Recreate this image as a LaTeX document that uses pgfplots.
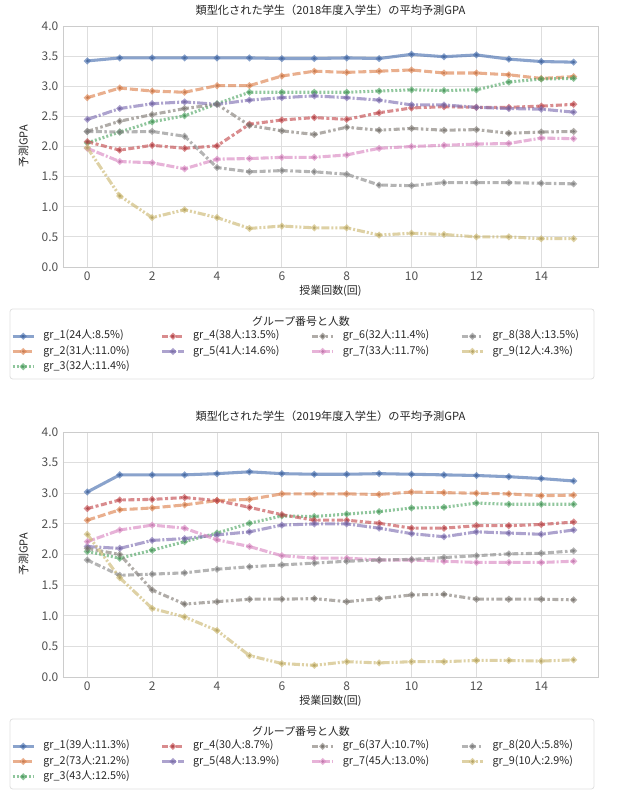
\documentclass[border=0pt]{standalone}
\usepackage{fontspec}
\setmainfont{Noto Sans CJK JP}
\usepackage{pgfplots}
\usepackage{pgfplotstable}
\pgfplotsset{compat=1.18}

\definecolor{c1}{HTML}{4C72B0}
\definecolor{c2}{HTML}{DD8452}
\definecolor{c3}{HTML}{55A868}
\definecolor{c4}{HTML}{C44E52}
\definecolor{c5}{HTML}{8172B3}
\definecolor{c6}{HTML}{85807A}
\definecolor{c7}{HTML}{DA8BC3}
\definecolor{c8}{HTML}{8C8C8C}
\definecolor{c9}{HTML}{CCB974}
\definecolor{txt}{HTML}{262626}

\pgfplotstableread{
x g1 g2 g3 g4 g5 g6 g7 g8 g9
0 3.42 2.81 2.06 2.08 2.45 2.25 1.97 2.25 1.98
1 3.47 2.97 2.24 1.94 2.63 2.42 1.75 2.24 1.18
2 3.47 2.92 2.41 2.02 2.71 2.53 1.73 2.25 0.82
3 3.47 2.90 2.51 1.97 2.74 2.63 1.63 2.17 0.95
4 3.47 3.01 2.71 2.01 2.70 2.70 1.79 1.65 0.82
5 3.47 3.01 2.90 2.37 2.77 2.35 1.80 1.58 0.64
6 3.46 3.17 2.90 2.44 2.81 2.26 1.82 1.60 0.68
7 3.46 3.25 2.90 2.48 2.84 2.20 1.82 1.58 0.65
8 3.47 3.23 2.90 2.45 2.81 2.32 1.86 1.54 0.65
9 3.46 3.25 2.92 2.56 2.77 2.27 1.97 1.36 0.53
10 3.53 3.27 2.94 2.64 2.69 2.30 2.00 1.35 0.56
11 3.49 3.22 2.93 2.66 2.69 2.27 2.02 1.40 0.54
12 3.52 3.22 2.94 2.65 2.65 2.28 2.04 1.40 0.50
13 3.45 3.19 3.07 2.65 2.63 2.22 2.05 1.40 0.50
14 3.41 3.13 3.12 2.67 2.62 2.24 2.14 1.39 0.47
15 3.40 3.16 3.13 2.70 2.57 2.25 2.13 1.38 0.47
}\dataA

\pgfplotstableread{
x g1 g2 g3 g4 g5 g6 g7 g8 g9
0 3.02 2.56 2.05 2.75 2.13 2.10 2.21 1.91 2.33
1 3.30 2.73 1.94 2.89 2.10 2.00 2.40 1.66 1.62
2 3.30 2.76 2.07 2.90 2.23 1.42 2.48 1.68 1.12
3 3.30 2.81 2.21 2.93 2.26 1.19 2.43 1.70 0.98
4 3.32 2.88 2.35 2.88 2.32 1.23 2.24 1.76 0.76
5 3.35 2.90 2.51 2.77 2.37 1.27 2.13 1.80 0.35
6 3.32 2.99 2.63 2.65 2.48 1.27 1.98 1.83 0.22
7 3.31 2.99 2.62 2.56 2.50 1.28 1.94 1.86 0.19
8 3.31 2.99 2.66 2.56 2.50 1.23 1.94 1.89 0.25
9 3.32 2.98 2.70 2.51 2.43 1.28 1.91 1.91 0.23
10 3.31 3.02 2.76 2.43 2.34 1.34 1.91 1.92 0.25
11 3.30 3.01 2.77 2.43 2.29 1.35 1.89 1.95 0.25
12 3.29 3.00 2.84 2.47 2.37 1.27 1.87 1.98 0.27
13 3.27 2.99 2.82 2.47 2.35 1.27 1.87 2.01 0.27
14 3.24 2.96 2.82 2.49 2.33 1.27 1.87 2.02 0.26
15 3.20 2.97 2.82 2.53 2.40 1.26 1.89 2.06 0.28
}\dataB

\pgfplotsset{
  base/.style={line width=2.3pt, draw opacity=0.65, mark=*, mark size=1.1pt,
    mark options={solid, draw=none, fill=#1!55!black, fill opacity=0.75}, color=#1},
  s1/.style={base=c1, solid},
  s2/.style={base=c2, dash pattern=on 6pt off 2.25pt},
  s3/.style={base=c3, dash pattern=on 1.5pt off 1.5pt},
  s4/.style={base=c4, dash pattern=on 4.5pt off 1.9pt on 2.25pt off 1.9pt},
  s5/.style={base=c5, dash pattern=on 7.5pt off 1.5pt on 1.5pt off 1.5pt},
  s6/.style={base=c6, dash pattern=on 4.5pt off 1.9pt on 1.9pt off 1.9pt on 1.9pt off 1.9pt},
  s7/.style={base=c7, dash pattern=on 6pt off 1.5pt on 6pt off 1.5pt on 1.5pt off 1.5pt},
  s8/.style={base=c8, dash pattern=on 4.5pt off 1.9pt on 4.5pt off 1.9pt on 1.9pt off 1.9pt},
  s9/.style={base=c9, dash pattern=on 6pt off 1.5pt on 1.5pt off 1.5pt on 1.5pt off 1.5pt},
  gpa/.style={
    scale only axis, width=401.25pt,
    xmin=-0.75, xmax=15.75, ymin=0, ymax=4,
    xtick={0,2,...,14}, ytick={0,0.5,...,4},
    yticklabel style={/pgf/number format/.cd, fixed, fixed zerofill, precision=1},
    /pgf/number format/assume math mode=true,
    tick label style={font=\fontsize{9}{10.5}\selectfont, text=txt!80},
    major tick length=0pt,
    grid=major, major grid style={black!13, line width=0.6pt},
    axis line style={black!20, line width=0.6pt},
    title style={font=\fontsize{8.4}{10}\selectfont, text=txt, yshift=-1.5pt},
    label style={font=\fontsize{8.2}{9.5}\selectfont, text=txt},
    xlabel={授業回数(回)}, ylabel={予測GPA},
    xlabel style={yshift=3pt}, ylabel style={yshift=3pt},
    legend image code/.code={\draw[mark repeat=2, mark phase=2, #1] plot coordinates {(0pt,0pt) (8pt,0pt) (16pt,0pt)};},
    legend cell align=left,
    legend columns=4,
    legend style={draw=none, fill=none, inner sep=0pt, outer sep=0pt,
      font=\fontsize{8.1}{9.5}\selectfont, text=txt,
      nodes={text height=6pt, text depth=2pt, inner sep=1.5pt},
      row sep=0.4pt,
      /tikz/every odd column/.append style={column sep=4.5pt},
      /tikz/every even column/.append style={column sep=6.5pt}},
  },
}
\newcommand{\E}[1]{\makebox[80pt][l]{#1}}

\begin{document}
\begin{tikzpicture}
\path[use as bounding box] (0,0) rectangle (466.5pt,600pt);

\begin{axis}[gpa, height=180.75pt, at={(47.25pt,399.75pt)}, anchor=south west,
  title={類型化された学生（2018年度入学生）の平均予測GPA},
  legend style={at={(axis description cs:-0.0972,-0.257)}, anchor=north west}]
\addplot[s1, forget plot] table[x=x,y=g1]{\dataA};
\addplot[s2, forget plot] table[x=x,y=g2]{\dataA};
\addplot[s3, forget plot] table[x=x,y=g3]{\dataA};
\addplot[s4, forget plot] table[x=x,y=g4]{\dataA};
\addplot[s5, forget plot] table[x=x,y=g5]{\dataA};
\addplot[s6, forget plot] table[x=x,y=g6]{\dataA};
\addplot[s7, forget plot] table[x=x,y=g7]{\dataA};
\addplot[s8, forget plot] table[x=x,y=g8]{\dataA};
\addplot[s9, forget plot] table[x=x,y=g9]{\dataA};
\addlegendimage{s1}\addlegendentry{\E{gr\_1(24人:8.5\%)}}
\addlegendimage{s4}\addlegendentry{\E{gr\_4(38人:13.5\%)}}
\addlegendimage{s6}\addlegendentry{\E{gr\_6(32人:11.4\%)}}
\addlegendimage{s8}\addlegendentry{\E{gr\_8(38人:13.5\%)}}
\addlegendimage{s2}\addlegendentry{\E{gr\_2(31人:11.0\%)}}
\addlegendimage{s5}\addlegendentry{\E{gr\_5(41人:14.6\%)}}
\addlegendimage{s7}\addlegendentry{\E{gr\_7(33人:11.7\%)}}
\addlegendimage{s9}\addlegendentry{\E{gr\_9(12人:4.3\%)}}
\addlegendimage{s3}\addlegendentry{\E{gr\_3(32人:11.4\%)}}
\end{axis}

\begin{axis}[gpa, height=183.75pt, at={(47.25pt,92.25pt)}, anchor=south west,
  title={類型化された学生（2019年度入学生）の平均予測GPA},
  legend style={at={(axis description cs:-0.0972,-0.253)}, anchor=north west}]
\addplot[s1, forget plot] table[x=x,y=g1]{\dataB};
\addplot[s2, forget plot] table[x=x,y=g2]{\dataB};
\addplot[s3, forget plot] table[x=x,y=g3]{\dataB};
\addplot[s4, forget plot] table[x=x,y=g4]{\dataB};
\addplot[s5, forget plot] table[x=x,y=g5]{\dataB};
\addplot[s6, forget plot] table[x=x,y=g6]{\dataB};
\addplot[s7, forget plot] table[x=x,y=g7]{\dataB};
\addplot[s8, forget plot] table[x=x,y=g8]{\dataB};
\addplot[s9, forget plot] table[x=x,y=g9]{\dataB};
\addlegendimage{s1}\addlegendentry{\E{gr\_1(39人:11.3\%)}}
\addlegendimage{s4}\addlegendentry{\E{gr\_4(30人:8.7\%)}}
\addlegendimage{s6}\addlegendentry{\E{gr\_6(37人:10.7\%)}}
\addlegendimage{s8}\addlegendentry{\E{gr\_8(20人:5.8\%)}}
\addlegendimage{s2}\addlegendentry{\E{gr\_2(73人:21.2\%)}}
\addlegendimage{s5}\addlegendentry{\E{gr\_5(48人:13.9\%)}}
\addlegendimage{s7}\addlegendentry{\E{gr\_7(45人:13.0\%)}}
\addlegendimage{s9}\addlegendentry{\E{gr\_9(10人:2.9\%)}}
\addlegendimage{s3}\addlegendentry{\E{gr\_3(43人:12.5\%)}}
\end{axis}

% legend frames and titles
\draw[black!12, line width=0.6pt, rounded corners=2pt] (7.5pt,368.25pt) rectangle (445.5pt,315.75pt);
\node[font=\fontsize{8.2}{9.5}\selectfont, text=txt] at (225.75pt,359.25pt) {グループ番号と人数};
\draw[black!12, line width=0.6pt, rounded corners=2pt] (7.5pt,60.75pt) rectangle (445.5pt,8.25pt);
\node[font=\fontsize{8.2}{9.5}\selectfont, text=txt] at (225.75pt,51.75pt) {グループ番号と人数};
\end{tikzpicture}
\end{document}
